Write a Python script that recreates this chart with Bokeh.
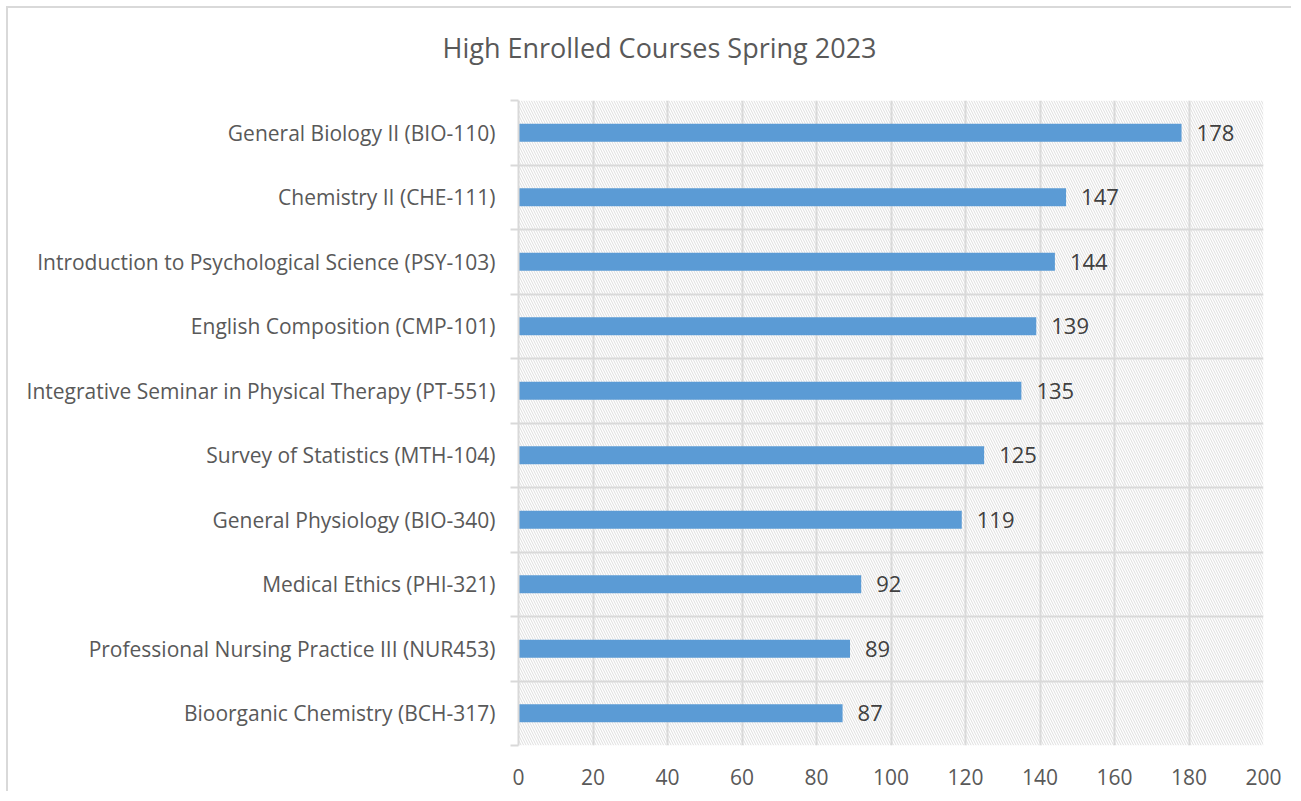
from bokeh.plotting import figure
from bokeh.models import Range1d, FixedTicker, BoxAnnotation, ColumnDataSource, Title
from bokeh.core.properties import value
from bokeh.embed import file_html
from bokeh.resources import INLINE

courses = [
    "General Biology II (BIO-110)",
    "Chemistry II (CHE-111)",
    "Introduction to Psychological Science (PSY-103)",
    "English Composition (CMP-101)",
    "Integrative Seminar in Physical Therapy (PT-551)",
    "Survey of Statistics (MTH-104)",
    "General Physiology (BIO-340)",
    "Medical Ethics (PHI-321)",
    "Professional Nursing Practice III (NUR453)",
    "Bioorganic Chemistry (BCH-317)",
]
enrollment = [178, 147, 144, 139, 135, 125, 119, 92, 89, 87]
x_ticks = [0, 20, 40, 60, 80, 100, 120, 140, 160, 180, 200]
title_text = "High Enrolled Courses Spring 2023"

FONT = "Open Sans"
GRID = "#d9d9d9"
TXT = "#595959"

n = len(courses)
centers = [i + 0.5 for i in range(n)]

W, H = 1285, 785
p = figure(width=W, height=H, output_backend="svg", toolbar_location=None,
           x_range=Range1d(0, 200), y_range=Range1d(n, 0),
           min_border_left=510, min_border_right=30, min_border_top=92,
           min_border_bottom=48)
p.styles = {"margin-left": "6px", "margin-top": "6px",
            "border-top": "2px solid #d9d9d9", "border-left": "2px solid #d9d9d9"}
p.outline_line_color = None
p.background_fill_color = "white"

# spacer between title and plot area, then the title itself
p.add_layout(Title(text=" ", text_font_size="1px", standoff=30), "above")
p.add_layout(Title(text=title_text, align="left", offset=-76, vertical_align="bottom",
                   standoff=4, text_font=FONT, text_font_size="27px",
                   text_font_style="normal", text_color=TXT), "above")

# hatched plot area
p.add_layout(BoxAnnotation(fill_color=None, line_color=None,
                           hatch_pattern="left_diagonal_line", hatch_color="#dedede",
                           hatch_scale=5, hatch_weight=1, level="image"))

src = ColumnDataSource(dict(y=centers, v=enrollment, t=[str(v) for v in enrollment]))
p.hbar(y="y", right="v", left=0, height=0.28, source=src,
       fill_color="#5b9bd5", line_color=None)
p.text(x="v", y="y", text="t", source=src, x_offset=15,
       text_baseline="middle", text_align="left",
       text_font=value(FONT), text_font_size="22px", text_color="#404040")

# x axis
p.xaxis.ticker = FixedTicker(ticks=x_ticks)
p.xaxis.axis_line_color = None
p.xaxis.major_tick_line_color = None
p.xaxis.minor_tick_line_color = None
p.xaxis.major_tick_out = 0
p.xaxis.major_label_standoff = 23
p.xaxis.major_label_text_font = FONT
p.xaxis.major_label_text_font_size = "21px"
p.xaxis.major_label_text_color = TXT

# y axis
p.yaxis.ticker = FixedTicker(ticks=centers, minor_ticks=list(range(n + 1)))
p.yaxis.major_label_overrides = {c: name for c, name in zip(centers, courses)}
p.yaxis.axis_line_color = GRID
p.yaxis.axis_line_width = 2
p.yaxis.major_tick_line_color = None
p.yaxis.major_tick_out = 0
p.yaxis.major_tick_in = 0
p.yaxis.minor_tick_line_color = GRID
p.yaxis.minor_tick_line_width = 2
p.yaxis.minor_tick_out = 8
p.yaxis.minor_tick_in = 0
p.yaxis.major_label_standoff = 15
p.yaxis.major_label_text_font = FONT
p.yaxis.major_label_text_font_size = "21px"
p.yaxis.major_label_text_color = TXT

# grids
p.xgrid.ticker = FixedTicker(ticks=x_ticks)
p.xgrid.grid_line_color = GRID
p.xgrid.grid_line_width = 2
p.ygrid.ticker = FixedTicker(ticks=list(range(n + 1)))
p.ygrid.grid_line_color = GRID
p.ygrid.grid_line_width = 2

open("out.html", "w").write(file_html(p, INLINE))
